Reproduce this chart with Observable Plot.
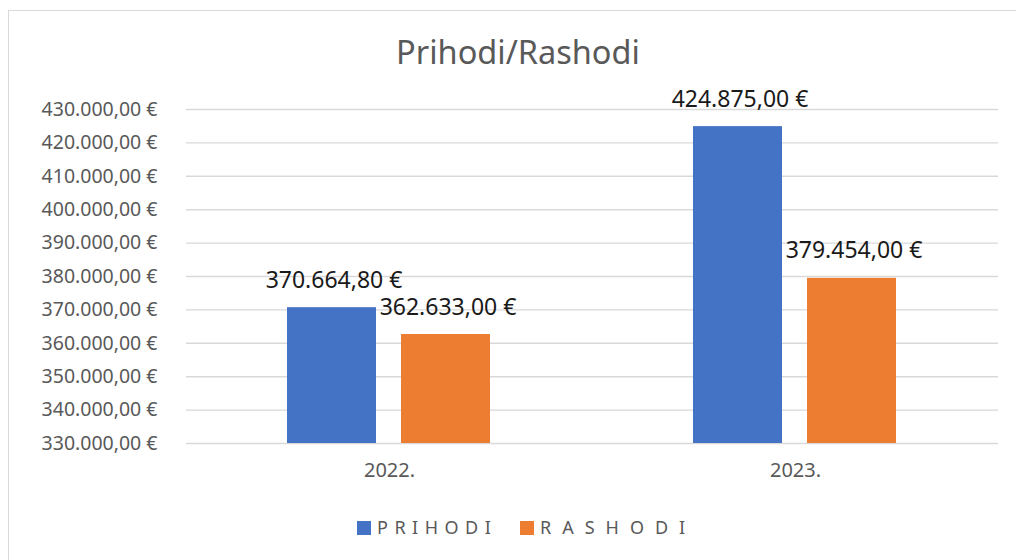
<!DOCTYPE html>
<html>
<head>
<meta charset="utf-8">
<script src="https://cdn.jsdelivr.net/npm/d3@7"></script>
<script src="https://cdn.jsdelivr.net/npm/@observablehq/plot@0.6"></script>
<style>
  html, body { margin: 0; padding: 0; background: #fff; width: 1016px; height: 560px; overflow: hidden; }
  #frame { position: absolute; left: 8px; top: 10px; width: 1040px; height: 600px; border: 1px solid #d9d9d9; box-sizing: border-box; }
  #title { position: absolute; left: 0; width: 1036px; top: 36px; text-align: center; font-family: "Noto Sans"; font-size: 32.5px; line-height: 32px; color: #595959; }
  #chart { position: absolute; left: 0; top: 0; }
  .leg { position: absolute; top: 518px; font-family: "Noto Sans"; font-size: 18px; line-height: 18px; color: #595959; white-space: nowrap; }
  .sw { position: absolute; top: 521px; width: 14px; height: 14px; }
</style>
</head>
<body>
<div id="frame"></div>
<div id="chart"></div>
<div id="title">Prihodi/Rashodi</div>
<div id="legend"></div>
<script>
// ---- data ----
const years = ["2022.", "2023."];
const series = ["PRIHODI", "RASHODI"];
const prihodi = [370664.80, 424875.00];
const rashodi = [362633.00, 379454.00];
const yMin = 330000;
const yMax = 430000;
const yTicks = [330000, 340000, 350000, 360000, 370000, 380000, 390000, 400000, 410000, 420000, 430000];
const colors = ["#4472C4", "#ED7D31"];

const locale = d3.formatLocale({decimal: ",", thousands: ".", grouping: [3], currency: ["", " €"]});
const fmt = locale.format("$,.2f");

const data = years.flatMap((yr, i) => [
  {year: yr, series: series[0], value: prihodi[i]},
  {year: yr, series: series[1], value: rashodi[i]}
]);

const chart = Plot.plot({
  width: 1016,
  height: 500,
  marginLeft: 186,
  marginRight: 18,
  marginTop: 109,
  marginBottom: 57,
  style: {fontFamily: "Noto Sans", fontSize: "19.5px", color: "#595959", background: "transparent", overflow: "visible"},
  fx: {domain: years, padding: 0, label: null},
  x: {domain: series, paddingInner: 0.217, paddingOuter: 0.874, axis: null},
  y: {domain: [yMin, yMax], label: null},
  color: {domain: series, range: colors},
  marks: [
    Plot.gridY(yTicks, {stroke: "#d9d9d9", strokeOpacity: 1, strokeWidth: 1.4}),
    Plot.axisY(yTicks, {tickSize: 0, tickPadding: 29, tickFormat: fmt, label: null, fill: "#595959"}),
    Plot.axisFx({anchor: "bottom", tickSize: 0, tickPadding: 19, label: null, fontSize: 20, fill: "#595959"}),
    Plot.barY(data, {fx: "year", x: "series", y1: yMin, y2: "value", fill: "series"}),
    Plot.text(data, {fx: "year", x: "series", y: "value", text: d => fmt(d.value), dy: -20, dx: 2, lineAnchor: "bottom", fontSize: 23, fill: "#1a1a1a"})
  ]
});
document.getElementById("chart").appendChild(chart);

// legend
const legend = document.getElementById("legend");
const legPos = [{sw: 357, tx: 377, ls: 6.5}, {sw: 520, tx: 540, ls: 11}];
series.forEach((s, i) => {
  const sw = document.createElement("div");
  sw.className = "sw";
  sw.style.left = legPos[i].sw + "px";
  sw.style.background = colors[i];
  legend.appendChild(sw);
  const t = document.createElement("div");
  t.className = "leg";
  t.style.left = legPos[i].tx + "px";
  t.style.letterSpacing = legPos[i].ls + "px";
  t.textContent = s;
  legend.appendChild(t);
});
</script>
</body>
</html>
